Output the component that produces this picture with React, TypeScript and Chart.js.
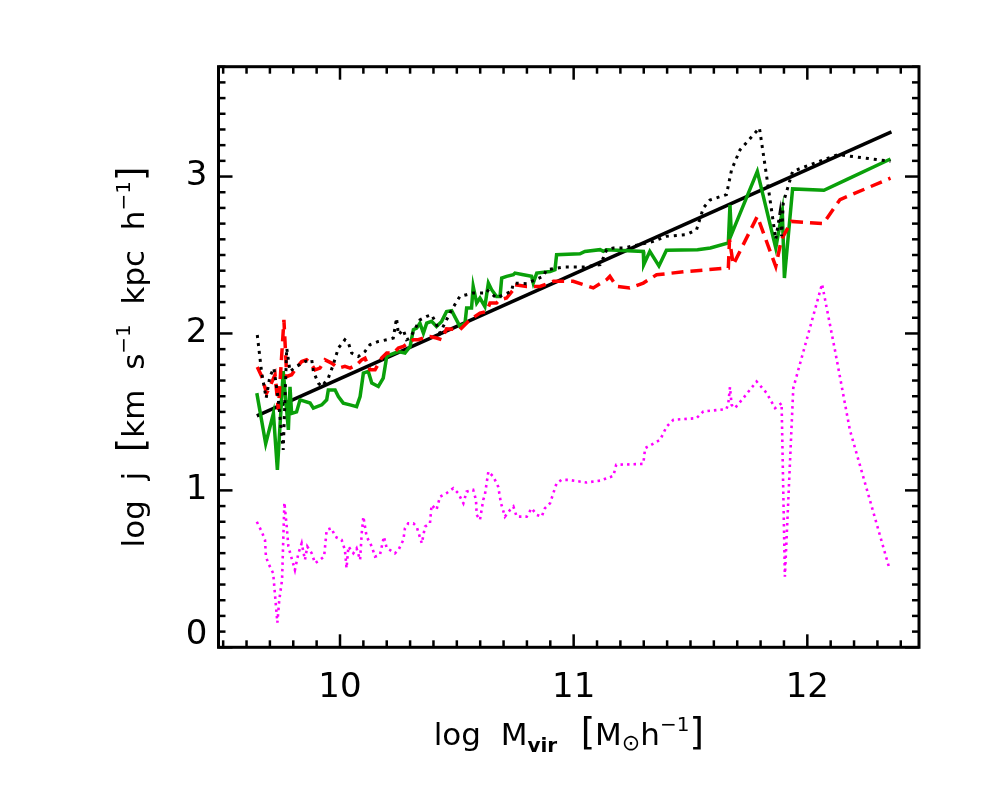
import React, { useEffect, useRef } from "react";
import { Chart, registerables } from "chart.js";

Chart.register(...registerables);

// ---- axis ranges & tick labels ----
const X_MIN = 9.48;
const X_MAX = 12.478;
const Y_MIN = 0;
const Y_MAX = 3.7;
const xMajorTicks = [10, 11, 12];
const xTickLabels = ["10", "11", "12"];
const yMajorTicks = [0, 1, 2, 3];
const yTickLabels = ["0", "1", "2", "3"];

// ---- black solid fit line ----
const fitX = [9.644, 12.36];
const fitY = [1.475, 3.285];

// ---- green solid ----
const greenX = [9.644, 9.682, 9.715, 9.732, 9.757, 9.779, 9.786, 9.793, 9.814, 9.829, 9.872, 9.886, 9.922, 9.943, 9.95, 9.979, 9.993, 10.014, 10.043, 10.071, 10.086, 10.1, 10.121, 10.136, 10.164, 10.185, 10.2, 10.214, 10.25, 10.278, 10.3, 10.314, 10.328, 10.342, 10.357, 10.371, 10.392, 10.413, 10.435, 10.456, 10.478, 10.513, 10.535, 10.542, 10.563, 10.57, 10.585, 10.599, 10.62, 10.635, 10.649, 10.67, 10.685, 10.692, 10.713, 10.742, 10.749, 10.785, 10.82, 10.827, 10.842, 10.899, 10.92, 10.927, 11.027, 11.048, 11.113, 11.127, 11.141, 11.298, 11.3, 11.326, 11.365, 11.397, 11.53, 11.585, 11.662, 11.669, 11.675, 11.786, 11.865, 11.893, 11.902, 11.937, 12.071, 12.168, 12.356];
const greenY = [1.62, 1.297, 1.49, 1.13, 1.76, 1.386, 1.66, 1.49, 1.5, 1.577, 1.557, 1.524, 1.545, 1.577, 1.64, 1.64, 1.598, 1.556, 1.545, 1.534, 1.598, 1.747, 1.758, 1.684, 1.662, 1.716, 1.853, 1.864, 1.885, 1.875, 1.917, 2.024, 2.034, 2.066, 2.003, 2.066, 2.077, 2.045, 2.077, 2.14, 2.145, 2.045, 2.066, 2.162, 2.162, 2.3, 2.194, 2.226, 2.172, 2.321, 2.279, 2.236, 2.236, 2.353, 2.364, 2.374, 2.385, 2.374, 2.364, 2.321, 2.385, 2.395, 2.406, 2.502, 2.508, 2.523, 2.534, 2.523, 2.534, 2.523, 2.438, 2.523, 2.43, 2.53, 2.534, 2.545, 2.577, 2.82, 2.63, 3.033, 2.545, 2.778, 2.353, 2.921, 2.912, 2.98, 3.112];

// ---- black dotted ----
const dotX = [9.646, 9.665, 9.684, 9.7, 9.717, 9.736, 9.757, 9.772, 9.786, 9.814, 9.85, 9.879, 9.886, 9.907, 9.922, 9.95, 9.971, 9.993, 10.021, 10.036, 10.05, 10.078, 10.107, 10.128, 10.164, 10.2, 10.228, 10.242, 10.25, 10.271, 10.285, 10.3, 10.342, 10.371, 10.392, 10.407, 10.428, 10.456, 10.478, 10.513, 10.542, 10.57, 10.613, 10.627, 10.67, 10.699, 10.734, 10.742, 10.799, 10.87, 10.884, 10.955, 11.041, 11.113, 11.127, 11.141, 11.17, 11.213, 11.284, 11.341, 11.397, 11.483, 11.526, 11.555, 11.583, 11.654, 11.676, 11.712, 11.795, 11.826, 11.865, 11.883, 11.89, 11.897, 11.937, 12.13, 12.356];
const dotY = [1.99, 1.747, 1.588, 1.726, 1.779, 1.577, 1.258, 1.907, 1.758, 1.79, 1.821, 1.832, 1.758, 1.684, 1.662, 1.716, 1.8, 1.907, 1.96, 1.939, 1.875, 1.853, 1.885, 1.928, 1.949, 1.96, 1.971, 2.098, 1.992, 2.024, 1.96, 1.971, 2.087, 2.109, 2.119, 2.077, 2.003, 2.087, 2.151, 2.236, 2.247, 2.258, 2.258, 2.279, 2.226, 2.247, 2.268, 2.321, 2.317, 2.364, 2.406, 2.423, 2.423, 2.438, 2.481, 2.534, 2.545, 2.545, 2.566, 2.587, 2.619, 2.63, 2.661, 2.8, 2.85, 2.885, 3.044, 3.17, 3.31, 3.001, 2.6, 2.768, 2.62, 2.832, 3.033, 3.14, 3.097];

// ---- red dashed ----
const redX = [9.646, 9.665, 9.686, 9.7, 9.722, 9.736, 9.76, 9.772, 9.793, 9.807, 9.836, 9.857, 9.879, 9.893, 9.914, 9.936, 9.964, 9.993, 10.021, 10.043, 10.071, 10.093, 10.107, 10.128, 10.15, 10.178, 10.2, 10.228, 10.25, 10.271, 10.292, 10.314, 10.335, 10.357, 10.385, 10.413, 10.435, 10.456, 10.513, 10.556, 10.599, 10.627, 10.642, 10.67, 10.685, 10.713, 10.742, 10.749, 10.799, 10.856, 10.913, 10.998, 11.041, 11.084, 11.141, 11.155, 11.184, 11.24, 11.298, 11.355, 11.483, 11.662, 11.667, 11.683, 11.786, 11.865, 11.889, 11.932, 12.068, 12.14, 12.356];
const redY = [1.786, 1.726, 1.62, 1.662, 1.737, 1.513, 2.087, 1.726, 1.737, 1.768, 1.821, 1.832, 1.8, 1.768, 1.779, 1.832, 1.811, 1.779, 1.79, 1.779, 1.8, 1.832, 1.843, 1.768, 1.768, 1.843, 1.875, 1.875, 1.907, 1.917, 1.939, 1.96, 1.96, 1.971, 1.981, 1.971, 1.96, 2.03, 2.024, 2.087, 2.13, 2.14, 2.194, 2.194, 2.215, 2.226, 2.279, 2.311, 2.3, 2.3, 2.332, 2.332, 2.311, 2.29, 2.343, 2.364, 2.3, 2.29, 2.321, 2.374, 2.395, 2.417, 2.598, 2.438, 2.746, 2.427, 2.598, 2.714, 2.7, 2.853, 2.99];

// ---- magenta dotted ----
const magX = [9.644, 9.665, 9.679, 9.683, 9.693, 9.714, 9.732, 9.74, 9.752, 9.762, 9.772, 9.779, 9.791, 9.807, 9.822, 9.836, 9.85, 9.86, 9.879, 9.893, 9.914, 9.932, 9.943, 9.964, 9.979, 10.007, 10.021, 10.028, 10.036, 10.057, 10.071, 10.086, 10.093, 10.1, 10.114, 10.136, 10.15, 10.171, 10.188, 10.2, 10.214, 10.235, 10.25, 10.271, 10.278, 10.292, 10.314, 10.328, 10.35, 10.364, 10.385, 10.392, 10.413, 10.428, 10.456, 10.485, 10.506, 10.528, 10.542, 10.57, 10.582, 10.585, 10.599, 10.613, 10.62, 10.635, 10.656, 10.677, 10.689, 10.706, 10.728, 10.742, 10.756, 10.799, 10.82, 10.842, 10.863, 10.877, 10.899, 10.927, 10.948, 10.977, 11.055, 11.113, 11.17, 11.182, 11.298, 11.306, 11.37, 11.398, 11.427, 11.526, 11.555, 11.654, 11.662, 11.669, 11.676, 11.69, 11.726, 11.783, 11.826, 11.862, 11.89, 11.904, 11.94, 12.063, 12.118, 12.182, 12.353];
const magY = [0.8, 0.737, 0.684, 0.578, 0.536, 0.472, 0.157, 0.3, 0.43, 0.922, 0.769, 0.642, 0.578, 0.493, 0.599, 0.663, 0.557, 0.642, 0.599, 0.536, 0.557, 0.578, 0.748, 0.759, 0.705, 0.684, 0.62, 0.504, 0.642, 0.599, 0.631, 0.557, 0.727, 0.833, 0.705, 0.642, 0.578, 0.589, 0.705, 0.631, 0.62, 0.599, 0.62, 0.684, 0.759, 0.79, 0.79, 0.769, 0.663, 0.769, 0.79, 0.907, 0.876, 0.96, 0.982, 1.014, 0.982, 0.918, 0.992, 1.003, 0.939, 0.844, 0.812, 0.939, 0.971, 1.12, 1.088, 1.024, 0.918, 0.833, 0.876, 0.897, 0.833, 0.833, 0.886, 0.844, 0.833, 0.886, 0.918, 1.046, 1.067, 1.067, 1.05, 1.062, 1.092, 1.163, 1.169, 1.269, 1.322, 1.407, 1.45, 1.46, 1.503, 1.518, 1.556, 1.658, 1.545, 1.524, 1.588, 1.694, 1.62, 1.524, 1.556, 0.45, 1.652, 2.315, 1.896, 1.386, 0.493];

const FONT = '"DejaVu Sans", sans-serif';

type Seg = { t: string; size: number; dy?: number; weight?: string };

const yTitle: Seg[] = [
  { t: "log  j  ", size: 31 },
  { t: "[", size: 37 },
  { t: "km  s", size: 31 },
  { t: "\u22121", size: 20, dy: -14 },
  { t: "  kpc  h", size: 31 },
  { t: "\u22121", size: 20, dy: -14 },
  { t: "]", size: 37 },
];

const xTitle: Seg[] = [
  { t: "log  M", size: 31 },
  { t: "vir", size: 20, dy: 7, weight: "bold" },
  { t: "  [", size: 37 },
  { t: "M", size: 31 },
  { t: "\u2299", size: 22, dy: 5 },
  { t: "h", size: 31 },
  { t: "\u22121", size: 20, dy: -14 },
  { t: "]", size: 37 },
];

function pts(xs: number[], ys: number[]) {
  return xs.map((x, i) => ({ x, y: ys[i] }));
}

function drawRich(ctx: CanvasRenderingContext2D, segs: Seg[], cx: number, baseY: number) {
  const widths: number[] = [];
  let total = 0;
  segs.forEach((s) => {
    ctx.font = `${s.weight || "normal"} ${s.size}px ${FONT}`;
    const w = ctx.measureText(s.t).width;
    widths.push(w);
    total += w;
  });
  let x = cx - total / 2;
  ctx.textAlign = "left";
  ctx.textBaseline = "alphabetic";
  segs.forEach((s, i) => {
    ctx.font = `${s.weight || "normal"} ${s.size}px ${FONT}`;
    ctx.fillText(s.t, x, baseY + (s.dy || 0));
    x += widths[i];
  });
}

const framePlugin = {
  id: "idlFrame",
  afterDraw(chart: any) {
    const { ctx, chartArea: a, scales } = chart;
    const xs = scales.x;
    const ys = scales.y;
    ctx.save();
    ctx.strokeStyle = "#000";
    ctx.fillStyle = "#000";
    ctx.lineCap = "butt";
    ctx.lineWidth = 2.5;
    const seg = (x1: number, y1: number, x2: number, y2: number) => {
      ctx.beginPath();
      ctx.moveTo(x1, y1);
      ctx.lineTo(x2, y2);
      ctx.stroke();
    };
    for (let i = Math.ceil(X_MIN * 10); i <= Math.floor(X_MAX * 10); i++) {
      const major = i % 10 === 0;
      const px = xs.getPixelForValue(i / 10);
      const len = major ? 13 : 7;
      seg(px, a.bottom, px, a.bottom - len);
      seg(px, a.top, px, a.top + len);
    }
    for (let i = Math.ceil(Y_MIN * 10); i <= Math.floor(Y_MAX * 10); i++) {
      const major = i % 10 === 0;
      const py = ys.getPixelForValue(i / 10);
      const len = major ? 14 : 7;
      seg(a.left, py, a.left + len, py);
      seg(a.right, py, a.right - len, py);
    }
    ctx.lineWidth = 3;
    ctx.strokeRect(a.left, a.top, a.right - a.left, a.bottom - a.top);

    // tick labels
    ctx.font = `34px ${FONT}`;
    ctx.textAlign = "center";
    ctx.textBaseline = "middle";
    xMajorTicks.forEach((v, i) => {
      ctx.fillText(xTickLabels[i], xs.getPixelForValue(v), a.bottom + 41);
    });
    ctx.textAlign = "right";
    yMajorTicks.forEach((v, i) => {
      const py = Math.min(ys.getPixelForValue(v), a.bottom - 12);
      ctx.fillText(yTickLabels[i], a.left - 11, py);
    });

    // axis titles
    drawRich(ctx, xTitle, (a.left + a.right) / 2, 745);
    ctx.save();
    ctx.translate(144, (a.top + a.bottom) / 2);
    ctx.rotate(-Math.PI / 2);
    drawRich(ctx, yTitle, 0, 0);
    ctx.restore();
    ctx.restore();
  },
};

export default function App() {
  const ref = useRef<HTMLCanvasElement | null>(null);
  useEffect(() => {
    document.body.style.margin = "0";
    const canvas = ref.current;
    if (!canvas) return;
    const common = { showLine: true, pointRadius: 0, tension: 0, fill: false };
    const chart = new Chart(canvas, {
      type: "scatter",
      data: {
        datasets: [
          { ...common, data: pts(magX, magY), borderColor: "#ff00ff", borderWidth: 2.6, borderDash: [2.5, 4] },
          { ...common, data: pts(dotX, dotY), borderColor: "#000000", borderWidth: 3, borderDash: [3, 5] },
          { ...common, data: pts(redX, redY), borderColor: "#ff0000", borderWidth: 3.5, borderDash: [12, 7] },
          { ...common, data: pts(greenX, greenY), borderColor: "rgb(10,160,10)", borderWidth: 3.5 },
          { ...common, data: pts(fitX, fitY), borderColor: "#000000", borderWidth: 3.5 },
        ],
      } as any,
      options: {
        animation: false,
        responsive: false,
        devicePixelRatio: 1,
        layout: { padding: { left: 218.5, right: 65, top: 66.7, bottom: 138.7 } },
        plugins: { legend: { display: false }, tooltip: { enabled: false } },
        scales: {
          x: { type: "linear", min: X_MIN, max: X_MAX, display: false },
          y: { type: "linear", min: Y_MIN, max: Y_MAX, display: false },
        },
      } as any,
      plugins: [framePlugin],
    });
    return () => chart.destroy();
  }, []);
  return (
    <div style={{ position: "absolute", left: 0, top: 0, width: 984, height: 786, background: "#fff" }}>
      <canvas ref={ref} width={984} height={786} />
    </div>
  );
}
